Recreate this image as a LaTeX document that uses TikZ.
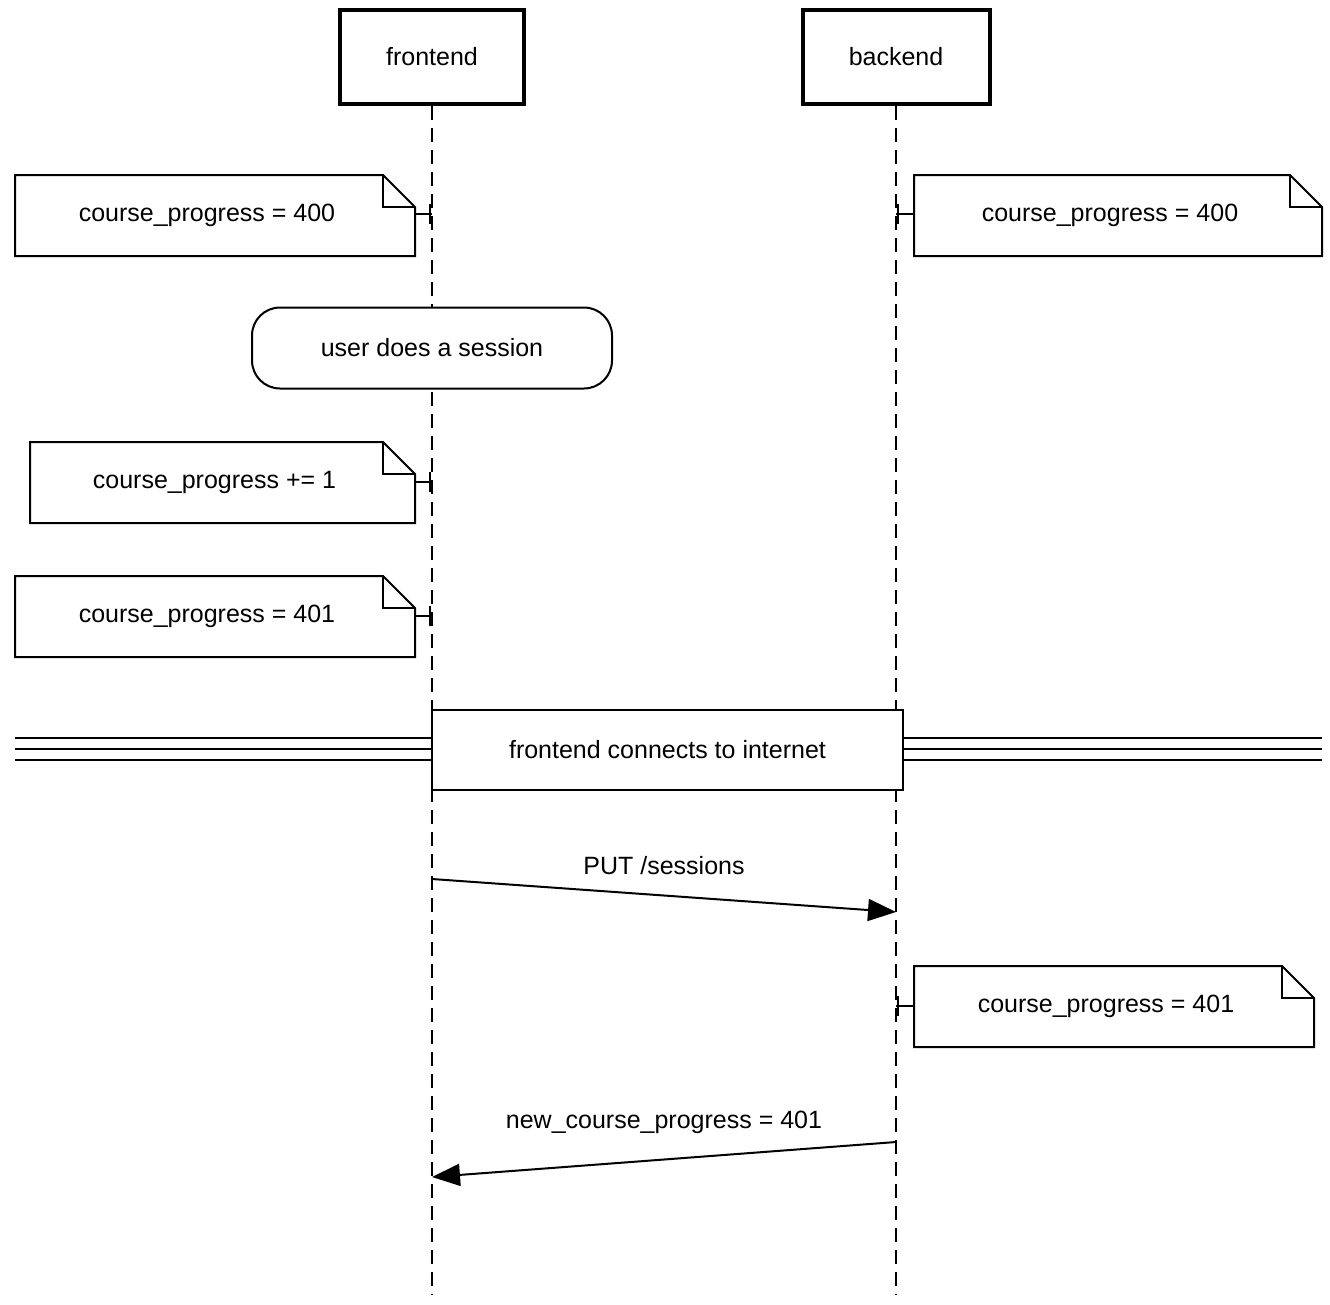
\documentclass[tikz,border=0pt]{standalone}
\usepackage{fontspec}
\setmainfont{Liberation Sans}
\usetikzlibrary{arrows.meta}
\begin{document}
\begin{tikzpicture}[x=1pt,y=-1pt,
  txt/.style={font=\fontsize{25}{30}\selectfont},
  life/.style={line width=2pt,dash pattern=on 14pt off 8pt},
  ln/.style={line width=2pt},
  msg/.style={line width=2pt,-{Triangle[length=28pt,width=22pt]}}]
\useasboundingbox (0,0) rectangle (1330,1304);
\fill[white] (0,0) rectangle (1330,1304);
% participants
\node[draw,line width=4pt,minimum width=184pt,minimum height=94pt,txt] (fe) at (432,57) {frontend};
\node[draw,line width=4pt,minimum width=187pt,minimum height=94pt,txt] (be) at (896,57) {backend};
\coordinate (feb) at (432,1295);
\coordinate (beb) at (896,1295);
\draw[life] (fe.south) -- (feb);
\draw[life] (be.south) -- (beb);
% notes macro
\newcommand{\mynote}[6]{% x1 y1 x2 y2 text name
  \draw[ln,fill=white] (#1,#2) -- (#3-32,#2) -- (#3,#2+32) -- (#3,#4) -- (#1,#4) -- cycle;
  \draw[ln] (#3-32,#2) -- (#3-32,#2+32) -- (#3,#2+32);
  \node[txt] (#6) at ({(#1+#3-16)/2},{(#2+#4)/2}) {#5};}
\mynote{15}{175}{415}{256}{course\_progress = 400}{n1}
\draw[ln] (415,214) -- (432,214); \draw[ln] (430,204)--(430,224);
\mynote{914}{175}{1322}{256}{course\_progress = 400}{n2}
\draw[ln] (896,214) -- (914,214); \draw[ln] (898,204)--(898,224);
\node[draw,ln,fill=white,rounded corners=28pt,minimum width=360pt,minimum height=81pt,txt] (us) at (432,348) {user does a session};
\mynote{30}{442}{415}{523}{course\_progress += 1}{n3}
\draw[ln] (415,482) -- (432,482); \draw[ln] (430,472)--(430,492);
\mynote{15}{576}{415}{657}{course\_progress = 401}{n4}
\draw[ln] (415,616) -- (432,616); \draw[ln] (430,606)--(430,626);
% divider
\foreach \yy in {738,749,760} \draw[ln] (15,\yy) -- (1322,\yy);
\node[draw,ln,fill=white,minimum width=471pt,minimum height=80pt,txt] (div) at (667.5,750) {frontend connects to internet};
% messages
\coordinate (m1a) at (432,879); \coordinate (m1b) at (896,912);
\draw[msg] (m1a) -- (m1b);
\node[txt] (l1) at (664,866) {PUT /sessions};
\mynote{914}{966}{1314}{1047}{course\_progress = 401}{n5}
\draw[ln] (896,1006) -- (914,1006); \draw[ln] (898,996)--(898,1016);
\coordinate (m2a) at (896,1142); \coordinate (m2b) at (432,1177);
\draw[msg] (m2a) -- (m2b);
\node[txt] (l2) at (664,1122) {new\_course\_progress = 401};
\end{tikzpicture}
\end{document}
